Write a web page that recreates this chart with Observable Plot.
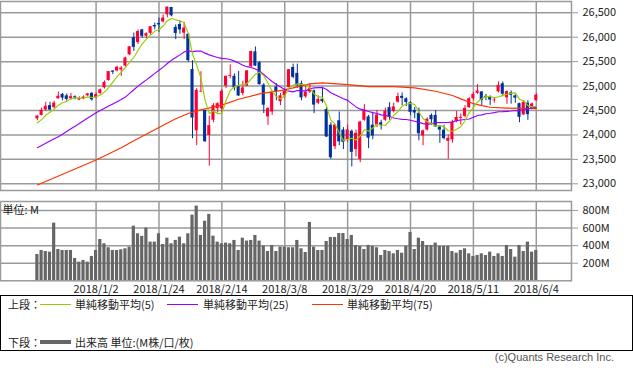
<!DOCTYPE html>
<html><head><meta charset="utf-8">
<script src="https://cdn.jsdelivr.net/npm/d3@7"></script>
<script src="https://cdn.jsdelivr.net/npm/@observablehq/plot@0.6"></script>
<style>
body{margin:0;background:#fff;}
#wrap{position:relative;width:633px;height:370px;overflow:hidden;font-family:"Noto Sans CJK JP","Liberation Sans",sans-serif;color:#222;}
#topc,#botc{position:absolute;left:0;}
#topc{top:0}#botc{top:192px}
.t{position:absolute;font-size:11px;line-height:11px;white-space:nowrap;transform:translateY(-50%);}
.ln{position:absolute;height:0;}
#box{position:absolute;left:0;top:295px;width:633px;height:56px;box-sizing:border-box;border:1px solid #000;}
</style></head>
<body><div id="wrap">
<div id="topc"></div><div id="botc"></div>
<div id="box"></div>
<div class="t" style="left:8px;top:304px">上段：</div>
<div class="ln" style="left:40px;top:304px;width:31px;border-top:1px solid #99cc00"></div>
<div class="t" style="left:75px;top:304px">単純移動平均(5)</div>
<div class="ln" style="left:167px;top:304px;width:31px;border-top:1px solid #9900ff"></div>
<div class="t" style="left:203px;top:304px">単純移動平均(25)</div>
<div class="ln" style="left:312px;top:304px;width:31px;border-top:1px solid #ff3300"></div>
<div class="t" style="left:347px;top:304px">単純移動平均(75)</div>
<div class="t" style="left:8px;top:342px">下段：</div>
<div class="ln" style="left:40px;top:340px;width:31px;border-top:4px solid #666"></div>
<div class="t" style="left:75px;top:342px">出来高 単位:(M株/口/枚)</div>
<div class="t" style="right:19px;top:357px;color:#555;font-family:'Liberation Sans',sans-serif">(c)Quants Research Inc.</div>
</div>
<script>
// trading days (index 0 = first candle)
const open = [24330,24400,24510,24600,24560,24740,24830,24800,24740,24780,
24715,24740,24800,24850,24760,24850,24964,25114,25308,25310,
25330,25410,25640,25990,25890,26150,26020,26080,26240,26280,
26313,26460,26609,26200,26260,26083,26062,25338,24085,24880,
24500,23992,24300,24540,24535,25000,25200,25200,25000,24850,
25000,25400,25700,25480,25020,24370,24470,24980,24680,24800,
24970,25380,25260,25050,24780,24878,24900,24650,24730,24520,
24200,23760,24290,24100,23900,24076,23700,23500,24300,24370,
24200,24200,24250,24300,24560,24480,24670,24790,24740,24660,
24500,24440,23980,24100,24400,24400,24160,24097,23870,23900,
24280,24340,24380,24560,24740,24852,24880,24790,24780,24700,
24883,25047,24760,24860,24800,24640,24410,24650,24540,24700];
const high = [24400,24550,24672,24668,24690,24876,24850,24840,24850,24800,
24780,24800,24850,24870,24860,24940,25105,25300,25311,25405,
25400,25590,25810,26086,26150,26160,26090,26215,26290,26392,
26459,26617,26609,26250,26338,26306,26072,25520,24946,25293,
24500,24382,24640,24660,24925,25203,25432,25250,25300,25100,
25320,25710,25800,25500,25050,24560,24900,25050,24850,24940,
25340,25450,25450,25100,25000,25050,24920,24800,24977,24560,
24250,24210,24470,24150,24200,24100,24100,24280,24622,24400,
24450,24500,24300,24550,24660,24650,24853,24860,24760,24680,
24560,24550,24100,24350,24430,24500,24180,24200,24000,24300,
24480,24430,24600,24760,24870,25030,24890,24830,24800,24760,
25087,25086,24900,24900,24820,24650,24700,24700,24650,24850];
const low = [24290,24390,24490,24500,24530,24735,24700,24690,24710,24720,
24700,24720,24790,24690,24740,24830,24940,25100,25236,25290,
25200,25390,25620,25710,25850,25980,25970,26040,26150,26100,
26294,26400,26418,25950,26060,25950,25490,23923,23778,24866,
23849,23360,24250,24450,24450,24950,25150,24900,24785,24800,
24990,25380,25400,25020,24437,24194,24400,24700,24600,24750,
24960,25150,24950,24700,24750,24850,24437,24620,24650,23950,
23500,23700,23780,23700,23850,23344,23550,23433,24280,23720,
23900,24150,24100,24280,24300,24450,24650,24600,24580,24400,
24330,23880,23780,24080,24200,24150,23830,23900,23500,23830,
24250,24200,24350,24540,24700,24830,24600,24700,24600,24650,
24860,24780,24626,24630,24650,24250,24400,24300,24530,24690];
const close = [24386,24505,24585,24509,24652,24792,24755,24727,24782,24754,
24746,24774,24838,24719,24824,24923,25075,25296,25283,25386,
25369,25575,25803,25793,26116,26018,26072,26215,26211,26252,
26393,26617,26439,26077,26149,26187,25521,24346,24913,24893,
23860,24191,24601,24640,24893,25200,25219,24965,24798,24962,
25310,25709,25410,25029,24609,24538,24875,24884,24801,24895,
25336,25179,25007,24758,24874,24947,24611,24727,24682,23958,
23533,24203,23858,23848,24103,23644,24033,24264,24505,23933,
23979,24408,24189,24483,24360,24573,24787,24748,24665,24463,
24449,24024,24084,24322,24311,24163,24099,23925,23930,24263,
24357,24360,24543,24740,24831,24899,24706,24769,24714,24715,
25013,24834,24887,24812,24753,24361,24668,24416,24635,24814];
// volume, millions of shares
const volume = [299,345,333,326,656,356,345,345,345,254,
212,231,212,277,345,470,421,376,345,345,
353,364,383,622,535,505,599,440,440,535,
413,485,421,459,497,421,535,747,850,516,
678,755,508,440,421,429,421,459,345,485,
452,459,516,452,395,333,402,333,383,383,
376,376,459,364,322,664,383,345,345,447,
493,493,538,538,470,516,402,391,356,402,
391,376,288,345,333,307,345,314,391,550,
356,485,447,402,402,429,391,391,391,333,
314,345,364,307,277,288,307,288,326,277,
307,277,402,356,269,402,333,440,326,345];
const ma5 = [24249,24314,24403,24463,24527,24609,24659,24687,24742,24762,
24753,24757,24779,24766,24780,24816,24876,24967,25080,25193,
25282,25382,25483,25585,25731,25861,25960,26043,26126,26154,
26229,26338,26382,26356,26335,26294,26075,25656,25423,25172,
24707,24441,24492,24437,24437,24705,24911,24983,25015,25029,
25051,25149,25238,25284,25213,25059,24892,24787,24741,24799,
24958,25019,25044,25035,25031,24953,24839,24783,24768,24585,
24302,24221,24047,23880,23909,23931,23897,23978,24110,24076,
24143,24218,24203,24198,24284,24403,24478,24590,24627,24647,
24622,24470,24337,24268,24238,24181,24196,24164,24086,24076,
24115,24167,24291,24453,24566,24675,24744,24789,24784,24761,
24783,24809,24833,24852,24860,24729,24696,24600,24575,24588];
const ma25 = [23740,23785,23830,23875,23920,23965,24015,24070,24125,24180,
24235,24290,24345,24400,24455,24500,24545,24590,24635,24680,
24725,24775,24850,24925,24999,25064,25127,25192,25260,25324,
25388,25462,25531,25583,25639,25696,25726,25706,25714,25717,
25674,25639,25611,25585,25566,25559,25545,25511,25471,25425,
25397,25382,25350,25303,25237,25163,25093,25031,24980,24930,
24896,24882,24909,24902,24902,24945,24962,24967,24969,24931,
24865,24824,24780,24742,24707,24641,24574,24528,24507,24480,
24457,24439,24411,24398,24377,24346,24331,24320,24317,24300,
24280,24257,24231,24217,24231,24256,24252,24254,24258,24264,
24293,24306,24317,24326,24362,24399,24411,24434,24443,24458,
24475,24477,24483,24489,24500,24497,24522,24536,24548,24568];
// 75-day average read at these trading days
const ma75Day = [0,7,14,20,23,29,33,36,39,44,48,53,58,61,65,68,74,79,85,90,95,99,101,104,106,108,112,119];
const ma75 = [22976,23230,23488,23740,23883,24150,24330,24440,24512,24610,24730,24840,24908,24963,25045,25066,25031,24990,24990,24963,24894,24806,24738,24640,24601,24566,24550,24540];
const tickDay = [14,29,44,59,74,89,104,119];
const tickLabel = ["2018/1/2","2018/1/24","2018/2/14","2018/3/8","2018/3/29","2018/4/20","2018/5/11","2018/6/4"];
const priceTicks = [23000,23500,24000,24500,25000,25500,26000,26500];
const volTicks = [200,400,600,800];

const RED = "#ff0033", BLUE = "#003399", GRID = "#9a9a9a";
const bars = close.map((c, i) => ({i, o: open[i], h: high[i], l: low[i], c, v: volume[i], col: c >= open[i] ? RED : BLUE}));
const toPts = arr => arr.map((v, i) => ({i, v}));
const ma75pts = ma75Day.map((d, k) => ({i: d, v: ma75[k]}));
const xDom = [-8.8, 127.4];
const font = {fontFamily: "'Noto Sans CJK JP','Liberation Sans',sans-serif", fontSize: "11px", background: "#fff", color: "#222"};
const hw = 0.37;

const priceChart = Plot.plot({
  width: 633, height: 192, marginLeft: 0, marginRight: 62, marginTop: 1, marginBottom: 2,
  style: font,
  x: {domain: xDom, axis: null},
  y: {domain: [22863, 26731], axis: null},
  color: {type: "identity"},
  marks: [
    Plot.ruleY(priceTicks, {stroke: GRID, strokeWidth: 1.5}),
    Plot.ruleX(tickDay, {stroke: GRID, strokeWidth: 1.5}),
    Plot.ruleX(bars, {x: "i", y1: "l", y2: "h", stroke: "col", strokeWidth: 1}),
    Plot.rect(bars, {x1: d => d.i - hw, x2: d => d.i + hw, y1: "o", y2: "c", fill: "col"}),
    Plot.line(ma75pts, {x: "i", y: "v", stroke: "#ff3300", strokeWidth: 1.15}),
    Plot.line(toPts(ma25), {x: "i", y: "v", stroke: "#9900ff", strokeWidth: 1.15}),
    Plot.line(toPts(ma5), {x: "i", y: "v", stroke: "#99cc00", strokeWidth: 1.15}),
    Plot.frame({stroke: GRID, strokeWidth: 1.5}),
    Plot.axisY(priceTicks, {anchor: "right", tickSize: 6, tickPadding: 5, tickFormat: d3.format(","), stroke: GRID, fill: "#222", label: null})
  ]
});
document.getElementById("topc").appendChild(priceChart);

const volChart = Plot.plot({
  width: 633, height: 103, marginLeft: 0, marginRight: 62, marginTop: 9, marginBottom: 14.7,
  style: font,
  x: {domain: xDom, axis: null},
  y: {domain: [0, 902], axis: null},
  marks: [
    Plot.ruleY(volTicks, {stroke: GRID, strokeWidth: 1.5}),
    Plot.ruleX(tickDay, {stroke: GRID, strokeWidth: 1.5}),
    Plot.rectY(bars, {x1: d => d.i - 0.38, x2: d => d.i + 0.38, y: "v", fill: "#666"}),
    Plot.frame({stroke: GRID, strokeWidth: 1.5}),
    Plot.text(["単位: M"], {text: d => d, frameAnchor: "top-left", textAnchor: "start", lineAnchor: "middle", dx: 2, dy: 9, fill: "#222"}),
    Plot.axisY(volTicks, {anchor: "right", tickSize: 6, tickPadding: 5, tickFormat: d => d + "M", stroke: GRID, fill: "#222", label: null}),
    Plot.axisX(tickDay, {anchor: "bottom", tickSize: 0, tickPadding: 4, tickFormat: d => tickLabel[tickDay.indexOf(d)], fill: "#222", label: null})
  ]
});
document.getElementById("botc").appendChild(volChart);
</script>
</body></html>
